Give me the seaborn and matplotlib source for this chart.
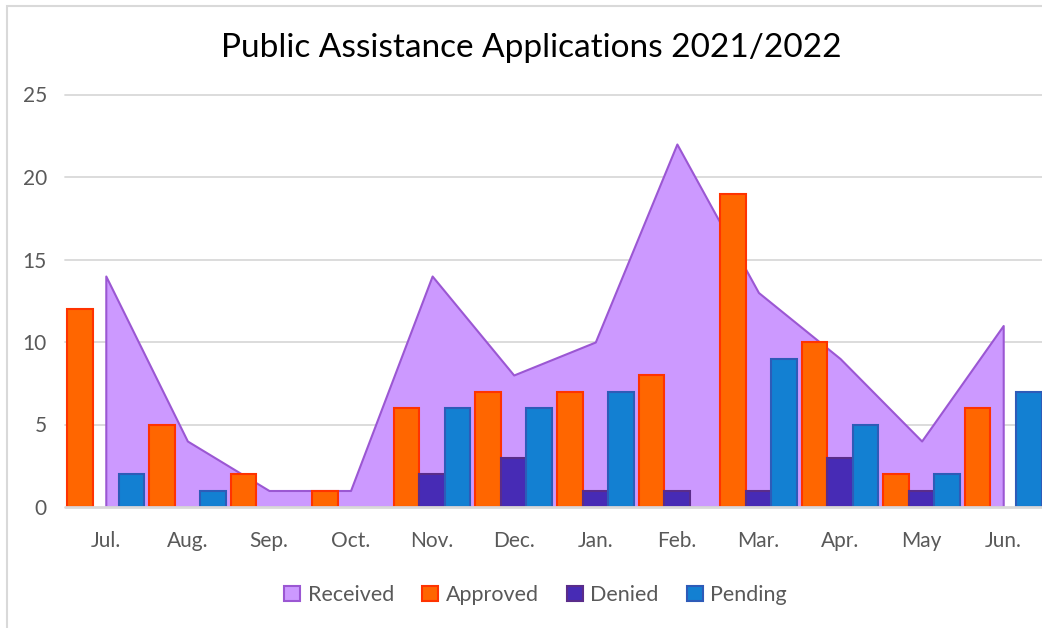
import numpy as np
import pandas as pd
import matplotlib
matplotlib.use("Agg")
import matplotlib.pyplot as plt
from matplotlib.patches import Patch, Rectangle
import seaborn as sns

months = ["Jul.", "Aug.", "Sep.", "Oct.", "Nov.", "Dec.",
          "Jan.", "Feb.", "Mar.", "Apr.", "May", "Jun."]
received = [14, 4, 1, 1, 14, 8, 10, 22, 13, 9, 4, 11]
approved = [12, 5, 2, 1, 6, 7, 7, 8, 19, 10, 2, 6]
denied = [0, 0, 0, 0, 2, 3, 1, 1, 1, 3, 1, 0]
pending = [2, 1, 0, 0, 6, 6, 7, 0, 9, 5, 2, 7]
y_ticks = [0, 5, 10, 15, 20, 25]

series = ["Approved", "Denied", "Pending"]
fill = {"Received": "#CC99FF", "Approved": "#FF6600",
        "Denied": "#472BB5", "Pending": "#1380D2"}
edge = {"Received": "#9B57D3", "Approved": "#FF3300",
        "Denied": "#5A2C8A", "Pending": "#2E5BB8"}

bars = pd.DataFrame({
    "Month": months * 3,
    "Status": [s for s in series for _ in months],
    "Count": approved + denied + pending,
})

sns.set_theme(style="white")
plt.rcParams["font.family"] = ["Lato", "DejaVu Sans"]

fig = plt.figure(figsize=(10.42, 6.28), dpi=100)
ax = fig.add_axes([65 / 1042, 121 / 628, 979 / 1042, 412.5 / 628])

# Received as a filled area behind the bars
x = np.arange(len(months))
ax.fill_between(x, received, 0, facecolor=fill["Received"],
                edgecolor=edge["Received"], linewidth=1.5, zorder=1)

sns.barplot(data=bars, x="Month", y="Count", hue="Status",
            hue_order=series, palette=fill, order=months,
            width=0.94, gap=0, dodge=True, saturation=1,
            legend=False, ax=ax, zorder=3)

for cont, name in zip(ax.containers, series):
    for patch in cont.patches:
        patch.set_edgecolor(edge[name])
        patch.set_linewidth(1.5 if patch.get_height() > 0 else 0)
        patch.set_zorder(3)

ax.set_xlim(-0.5, len(months) - 0.5)
ax.set_ylim(0, 25)
ax.set_yticks(y_ticks)
ax.set_xlabel("")
ax.set_ylabel("")
for s in ax.spines.values():
    s.set_visible(False)
for yv in y_ticks[1:]:
    ax.axhline(yv, color="#D9D9D9", lw=1.3, zorder=0, clip_on=False)
ax.axhline(0, color="#D9D9D9", lw=2, zorder=4, clip_on=False)

ax.tick_params(axis="both", length=0, labelsize=15, colors="#595959")
ax.tick_params(axis="y", pad=13)
ax.tick_params(axis="x", pad=17)

fig.text(0.51, 1 - 48 / 628, "Public Assistance Applications 2021/2022",
         ha="center", va="center", fontsize=24, color="#000000")

handles = [Patch(facecolor=fill[n], edgecolor=edge[n], linewidth=1.5, label=n)
           for n in ["Received"] + series]
fig.legend(handles=handles, loc="center", ncol=4, frameon=False,
           bbox_to_anchor=(0.514, 1 - 595 / 628), fontsize=15.5,
           handlelength=0.75, handleheight=0.75, handletextpad=0.35,
           columnspacing=1.3, labelcolor="#595959")

# chart frame
fig.patches.append(Rectangle((6.5 / 1042, -0.2), 2, 1.2 - 5.5 / 628,
                             transform=fig.transFigure, fill=False,
                             edgecolor="#D9D9D9", linewidth=1.5))

fig.savefig("out.png", dpi=100)
